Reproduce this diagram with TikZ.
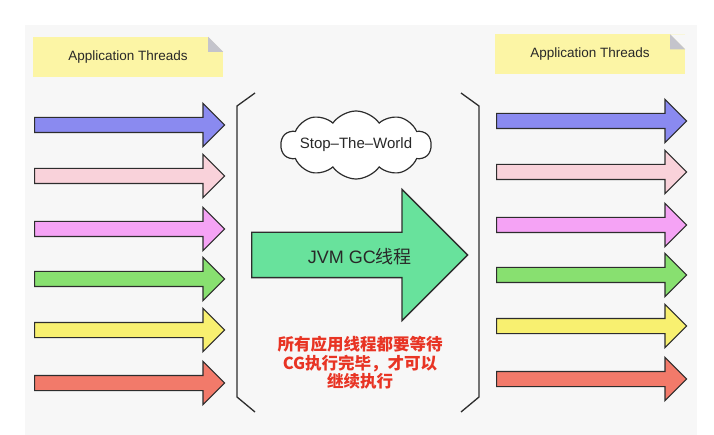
\documentclass[tikz,border=0pt]{standalone}
\usepackage{fontspec}
\setmainfont{Liberation Sans}
\newfontfamily\cjk{Noto Sans CJK SC}
\usepackage{tikz}
\usetikzlibrary{shapes.arrows, shapes.symbols, calc}
\definecolor{pagegray}{RGB}{247,247,247}
\definecolor{edgegray}{RGB}{45,45,45}
\definecolor{txtgray}{RGB}{40,40,40}
\definecolor{noteyellow}{RGB}{252,245,165}
\definecolor{foldgray}{RGB}{196,196,204}
\definecolor{tviolet}{RGB}{138,138,240}
\definecolor{tpink}{RGB}{249,210,218}
\definecolor{tmagenta}{RGB}{245,163,245}
\definecolor{tgreen}{RGB}{136,224,112}
\definecolor{tyellow}{RGB}{248,240,112}
\definecolor{tred}{RGB}{242,122,106}
\definecolor{gcgreen}{RGB}{104,226,156}
\definecolor{waitred}{RGB}{232,52,36}

\begin{document}
\begin{tikzpicture}[x=1pt, y=-1pt,
  every node/.style={font=\fontsize{13.5}{16}\selectfont, text=txtgray},
  thread/.style={single arrow, draw=edgegray, line width=1.2pt, anchor=tail,
        minimum height=190pt, single arrow head extend=14pt,
        inner xsep=0pt, inner ysep=7pt},
  note/.style={fill=noteyellow, minimum width=190pt, minimum height=40pt, inner sep=0pt},
  bracket/.style={draw=edgegray, line width=1.3pt}]
  \useasboundingbox (0,0) rectangle (714,435);
  \fill[white] (0,0) rectangle (714,435);
  \fill[pagegray] (25,25) rectangle (697,435);

  % sticky notes
  \node[note] (ln) at (128,57) {Application Threads};
  \node[note] (rn) at (590,54.5) {Application Threads};
  \foreach \n in {ln, rn} {
    \fill[pagegray] ($(\n.north east)+(-15,0)$) -- (\n.north east) -- ($(\n.north east)+(0,15)$) -- cycle;
    \fill[foldgray] ($(\n.north east)+(-15,0)$) -- ($(\n.north east)+(-15,15)$) -- ($(\n.north east)+(0,15)$) -- cycle;
  }

  % application threads, before and after the pause
  \foreach \c/\y [count=\i] in {tviolet/125, tpink/176, tmagenta/229, tgreen/279, tyellow/330, tred/383} {
    \node[thread, fill=\c] (lt\i) at (34,\y) {};
    \node[thread, fill=\c] (rt\i) at (496,\y-4) {};
  }

  % pause brackets
  \draw[bracket] (255,93) -- (237,106) -- (237,397) -- (255,412);
  \draw[bracket] (461,93) -- (479,106) -- (479,397) -- (461,412);

  \node[cloud, draw=edgegray, line width=1.2pt, fill=white, cloud puffs=10,
        cloud puff arc=110, aspect=2.2, minimum width=150pt, minimum height=68pt,
        inner sep=0pt] (stw) at (356,145) {};
  \node[font=\fontsize{15}{18}\selectfont] at (stw.center) {Stop–The–World};

  \node[single arrow, fill=gcgreen, draw=edgegray, line width=1.3pt, anchor=tail,
        minimum height=216pt, single arrow head extend=43pt,
        inner xsep=0pt, inner ysep=22pt] (gc) at (251,255) {};
  \node[font=\fontsize{18}{20}\selectfont] at ($(gc.tail)!0.5!(gc.tip)+(0,2)$) {JVM GC{\cjk 线程}};

  \node[align=center, text=waitred, font=\cjk\bfseries\fontsize{16.5}{18.5}\selectfont]
        (wait) at (360,363) {所有应用线程都要等待\\CG执行完毕，才可以\\继续执行};
\end{tikzpicture}
\end{document}
